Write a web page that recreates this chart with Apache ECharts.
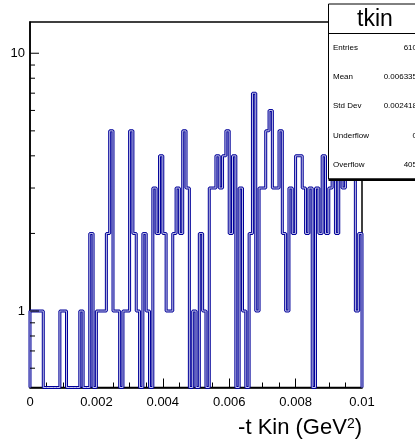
<!DOCTYPE html>
<html><head><meta charset="utf-8">
<script src="https://cdn.jsdelivr.net/npm/echarts@6/dist/echarts.min.js"></script>
<style>html,body{margin:0;padding:0;background:#fff}#c{width:415px;height:440px}</style>
</head><body><div id="c"></div>
<script>
// ---- data ----
const xMin = 0;
const xMax = 0.01;
const counts = [
  1,1,1,1,0,0,0,0,0,1,
  1,0,0,0,0,1,0,0,2,0,
  1,1,1,2,5,1,1,0,1,1,
  5,2,1,0,2,1,0,3,2,4,
  2,1,1,2,3,2,5,3,0,1,
  0,2,1,0,3,3,4,3,4,5,
  2,4,0,3,1,0,2,7,1,3,
  3,5,6,3,3,5,2,1,3,2,
  4,4,3,2,3,0,3,2,4,2,
  3,4,2,5,3,5,5,4,1,2
];
const xTickLabels = ['0', '0.002', '0.004', '0.006', '0.008', '0.01'];
const yLabelValues = [1, 10];
const yMajorTicks = [1, 10];
const yMinorTicks = [0.6, 0.7, 0.8, 0.9, 2, 3, 4, 5, 6, 7, 8, 9];
const histName = 'tkin';
const statsLabels = ['Entries', 'Mean', 'Std Dev', 'Underflow', 'Overflow'];
const statsValues = ['610', '0.006335', '0.002418', '0', '405'];
const xTitleMain = '-t Kin (GeV';
const xTitleSup = '2';
const xTitleEnd = ')';

// ---- build ----
const yMin = 0.505, yMax = 13.22;
const nb = counts.length;
const bw = (xMax - xMin) / nb;
const level = c => (c > 0 ? c : yMin);
const stepPts = [[xMin, yMin]];
for (let i = 0; i < nb; i++) stepPts.push([xMin + i * bw, level(counts[i])]);
stepPts.push([xMax, level(counts[nb - 1])]);
stepPts.push([xMax, yMin]);

const chart = echarts.init(document.getElementById('c'), null, {renderer: 'canvas'});
const font = 'Liberation Sans, Arial, Helvetica, sans-serif';
const gLeft = 30, gRight = 53, gTop = 22, gBottom = 52.5;

const yTickData = yMajorTicks.concat(yMinorTicks).map(v => [xMin, v]);

const statsGraphics = [];
const bx = 328.5, by = 4, bwid = 100, bh = 175;
statsGraphics.push({type: 'rect', z: 100, shape: {x: bx, y: by, width: bwid, height: bh},
  style: {fill: '#fff', stroke: '#000', lineWidth: 1}});
statsGraphics.push({type: 'rect', z: 101, shape: {x: bx, y: by + bh - 0.5, width: bwid, height: 2.5},
  style: {fill: '#000'}});
statsGraphics.push({type: 'line', z: 101, shape: {x1: bx, y1: 33.5, x2: bx + bwid, y2: 33.5},
  style: {stroke: '#000', lineWidth: 1}});
statsGraphics.push({type: 'text', z: 102, x: 375, y: 20,
  style: {text: histName, font: '23px ' + font, fill: '#000', textAlign: 'center', textVerticalAlign: 'middle'}});
const rowTop = 33.5, rowH = (179 - 33.5) / statsLabels.length;
statsLabels.forEach((lab, i) => {
  const yy = rowTop + rowH * (i + 0.5);
  statsGraphics.push({type: 'text', z: 102, x: 333, y: yy,
    style: {text: lab, font: '8px ' + font, fill: '#000', textAlign: 'left', textVerticalAlign: 'middle'}});
  statsGraphics.push({type: 'text', z: 102, x: 417, y: yy,
    style: {text: statsValues[i], font: '8px ' + font, fill: '#000', textAlign: 'right', textVerticalAlign: 'middle'}});
});
statsGraphics.push({type: 'text', z: 50, x: 362, y: 428,
  style: {
    text: '{m|' + xTitleMain + '}{s|' + xTitleSup + '}{m|' + xTitleEnd + '}',
    textAlign: 'right', textVerticalAlign: 'middle',
    rich: {
      m: {fontSize: 22, fontFamily: font, fill: '#000', color: '#000'},
      s: {fontSize: 14, fontFamily: font, fill: '#000', color: '#000', verticalAlign: 'top', padding: [0, 0, 8, 0]}
    }
  }});

chart.setOption({
  animation: false,
  backgroundColor: '#fff',
  grid: {left: gLeft, right: gRight, top: gTop, bottom: gBottom, show: true,
    borderColor: '#000', borderWidth: 1.5, backgroundColor: '#fff'},
  xAxis: {
    type: 'value', min: xMin, max: xMax, interval: 0.002,
    axisLine: {lineStyle: {color: '#000', width: 1.5}},
    axisTick: {inside: true, length: 9, lineStyle: {color: '#000'}},
    minorTick: {show: true, splitNumber: 4, length: 5, lineStyle: {color: '#000'}},
    splitLine: {show: false},
    axisLabel: {color: '#000', fontSize: 13, fontFamily: font, margin: 8,
      formatter: (v) => { const k = Math.round((v - xMin) / 0.002); return xTickLabels[k] !== undefined ? xTickLabels[k] : ''; }}
  },
  yAxis: {
    type: 'log', logBase: 10, min: yMin, max: yMax,
    axisLine: {lineStyle: {color: '#000', width: 1.5}},
    axisTick: {show: false},
    splitLine: {show: false},
    axisLabel: {color: '#000', fontSize: 13, fontFamily: font, margin: 5,
      showMinLabel: true, showMaxLabel: true,
      formatter: (v) => { for (const t of yLabelValues) { if (Math.abs(v - t) < 1e-6 * t) return String(t); } return ''; }}
  },
  series: [
    {type: 'line', data: stepPts, step: 'end', symbol: 'none', silent: true, z: 3,
      lineStyle: {color: '#00009a', width: 3}},
    {type: 'line', data: stepPts, step: 'end', symbol: 'none', silent: true, z: 4,
      lineStyle: {color: '#c4c4e6', width: 1}},
    {type: 'custom', coordinateSystem: 'cartesian2d', data: yTickData, silent: true, z: 6,
      renderItem: function (params, api) {
        const v = api.value(1);
        const p = api.coord([api.value(0), v]);
        const major = yMajorTicks.some(t => Math.abs(t - v) < 1e-9);
        const len = major ? 9 : 5;
        return {type: 'line', shape: {x1: p[0], y1: p[1], x2: p[0] + len, y2: p[1]},
          style: {stroke: '#000', lineWidth: 1}};
      }}
  ],
  graphic: statsGraphics
});
</script>
</body></html>
